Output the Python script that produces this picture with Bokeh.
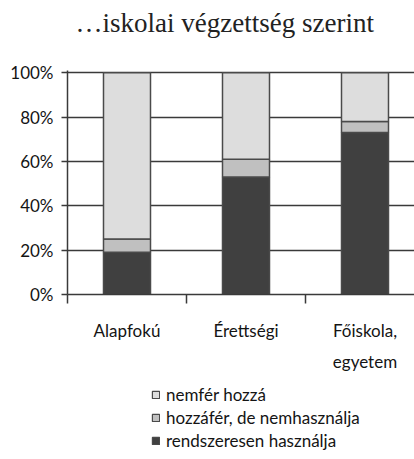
from bokeh.plotting import figure
from bokeh.layouts import column
from bokeh.models import (ColumnDataSource, FixedTicker, LinearAxis, Legend, LegendItem,
                          Range1d, Title, PrintfTickFormatter)
from bokeh.embed import file_html
from bokeh.resources import INLINE

categories = ["Alapfokú", "Érettségi", "Főiskola,"]
categories_line2 = ["", "", "egyetem"]
rendszeresen = [19, 53, 73]
hozzafer_nem = [6, 8, 5]
nemfer = [75, 39, 22]
series = ["rendszeresen", "hozzafer", "nemfer"]
series_labels = ["rendszeresen használja", "hozzáfér, de nemhasználja", "nemfér hozzá"]
colors = ["#404040", "#c0c0c0", "#dddddd"]
y_ticks = [0, 20, 40, 60, 80, 100]

FONT = "Lato"
TXT = "#141414"
LINE = "#3a3a3a"
OUTLINE = "#4a4a4a"

xs = [i + 0.5 for i in range(len(categories))]
src = ColumnDataSource(dict(x=xs, rendszeresen=rendszeresen, hozzafer=hozzafer_nem, nemfer=nemfer))

p = figure(width=414, height=380, output_backend="svg", toolbar_location=None,
           x_range=Range1d(0, 2.916), y_range=Range1d(0, 101),
           min_border_left=67, min_border_right=0, min_border_top=70, min_border_bottom=86,
           x_axis_location=None, y_axis_location=None)
p.outline_line_color = None
p.background_fill_color = "white"

renderers = p.vbar_stack(series, x="x", width=0.395, source=src, color=colors,
                         line_color=OUTLINE, line_width=1.5)

# y axis
yax = LinearAxis(ticker=FixedTicker(ticks=y_ticks), formatter=PrintfTickFormatter(format="%d%%"))
yax.axis_line_color = LINE
yax.axis_line_width = 1.5
yax.major_tick_out = 6
yax.major_tick_in = 0
yax.major_tick_line_color = LINE
yax.major_tick_line_width = 1.5
yax.minor_tick_line_color = None
yax.major_label_standoff = 8
yax.major_label_text_font = FONT
yax.major_label_text_font_size = "17px"
yax.major_label_text_color = TXT
p.add_layout(yax, "left")

# x axis with boundary ticks
xax = LinearAxis(ticker=FixedTicker(ticks=xs, minor_ticks=[0, 1, 2]))
xax.major_label_overrides = {x: c for x, c in zip(xs, categories)}
xax.axis_line_color = LINE
xax.axis_line_width = 1.5
xax.major_tick_line_color = None
xax.major_tick_out = 0
xax.major_tick_in = 0
xax.minor_tick_out = 9
xax.minor_tick_in = 0
xax.minor_tick_line_color = LINE
xax.minor_tick_line_width = 1.5
xax.major_label_standoff = 16
xax.major_label_text_font = FONT
xax.major_label_text_font_size = "17px"
xax.major_label_text_color = TXT
p.add_layout(xax, "below")

xax2 = LinearAxis(ticker=FixedTicker(ticks=xs, minor_ticks=[]))
xax2.major_label_overrides = {x: c for x, c in zip(xs, categories_line2)}
xax2.axis_line_color = None
xax2.major_tick_line_color = None
xax2.minor_tick_line_color = None
xax2.major_tick_out = 0
xax2.major_tick_in = 0
xax2.major_label_standoff = 7
xax2.major_label_text_font = FONT
xax2.major_label_text_font_size = "17px"
xax2.major_label_text_color = TXT
p.add_layout(xax2, "below")

p.xgrid.visible = False
p.ygrid.ticker = FixedTicker(ticks=y_ticks)
p.ygrid.grid_line_color = LINE
p.ygrid.grid_line_width = 1.5

# spacing between the frame and the title
gap = Title(text=" ", text_font_size="1px", standoff=30)
p.add_layout(gap, "above")
title = Title(text="…iskolai végzettség szerint", text_font="Liberation Serif",
              text_font_size="27px", text_font_style="normal", text_color="#222222",
              align="left", offset=8, standoff=0)
p.add_layout(title, "above")

# legend strip below the chart (legend of the same stacked series, hidden bars)
p2 = figure(width=414, height=79, output_backend="svg", toolbar_location=None,
            x_range=Range1d(0, 2.916), y_range=Range1d(0, 101),
            min_border_left=67, min_border_right=0, min_border_top=0, min_border_bottom=0,
            x_axis_location=None, y_axis_location=None)
p2.outline_line_color = None
p2.grid.visible = False
legend_renderers = p2.vbar_stack(series, x="x", width=0.395, source=src, color=colors,
                                 line_color=OUTLINE, line_width=1.2)
for r in legend_renderers:
    r.visible = False

items = [LegendItem(label=lab, renderers=[r]) for lab, r in zip(series_labels, legend_renderers)][::-1]
legend = Legend(items=items, location=(84, 8), orientation="vertical",
                glyph_width=9, glyph_height=9, label_text_font=FONT,
                label_text_font_size="17px", label_text_color=TXT,
                label_standoff=6, spacing=2, padding=0, margin=0,
                inactive_fill_alpha=0, click_policy="none",
                border_line_color=None, background_fill_alpha=0, label_height=20)
p2.add_layout(legend, "center")

layout = column(p, p2, spacing=0)
open("out.html", "w").write(file_html(layout, INLINE))
